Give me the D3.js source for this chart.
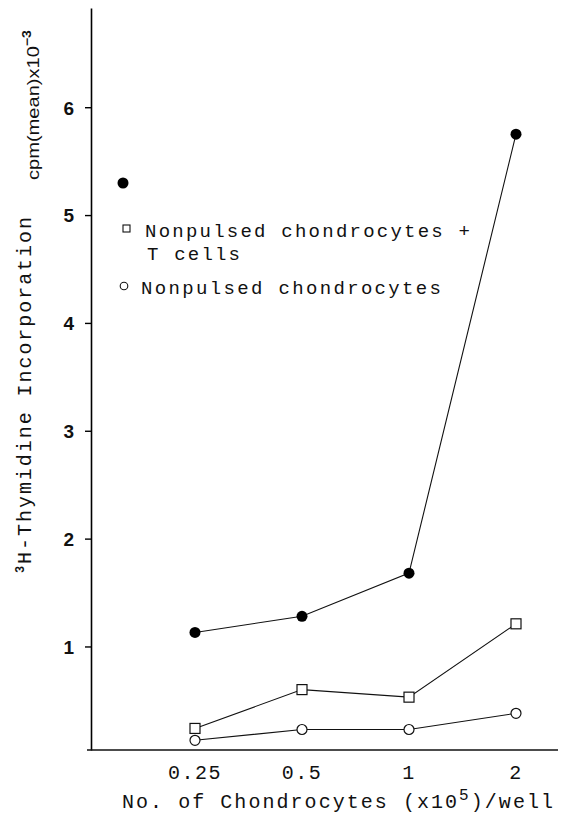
<!DOCTYPE html>
<html>
<head>
<meta charset="utf-8">
<script src="https://cdn.jsdelivr.net/npm/d3@7"></script>
<style>
  body { margin: 0; background: #fff; }
  text { fill: #111; }
</style>
</head>
<body>
<div id="chart"></div>
<script>
// chondrocyte counts (x10^5 per well)
let categories = ["0.25", "0.5", "1", "2"];
// cpm(mean) x10^-3
let pulsedT = [1.13, 1.28, 1.68, 5.75];
let nonpulsedT = [0.24, 0.60, 0.53, 1.21];
let nonpulsed = [0.13, 0.23, 0.23, 0.38];
let yTicks = [1, 2, 3, 4, 5, 6];

let width = 566;
let height = 821;

let svg = d3.select("#chart")
  .append("svg")
  .attr("width", width)
  .attr("height", height);

let x = d3.scalePoint()
  .domain(categories)
  .range([195, 516]);

let y = d3.scaleLinear()
  .domain([0.04, 6.92])
  .range([750, 8]);

let mono = "'Liberation Mono', 'DejaVu Sans Mono', monospace";

// y axis
let yAxis = svg.append("g")
  .attr("transform", "translate(91,0)")
  .call(d3.axisLeft(y).tickValues(yTicks).tickSize(6).tickSizeOuter(0).tickFormat(d3.format("d")));
yAxis.select(".domain").attr("stroke-width", 1.6);
yAxis.selectAll(".tick line").attr("stroke-width", 1.4);
yAxis.selectAll(".tick text")
  .attr("x", -17)
  .attr("dy", "0.36em")
  .style("font-family", "'Liberation Sans', Arial, sans-serif")
  .style("font-size", "19px")
  .style("font-weight", "bold")
  .attr("fill", "#111");

// x axis
svg.append("line")
  .attr("x1", 87).attr("x2", 558)
  .attr("y1", 750).attr("y2", 750)
  .attr("stroke", "#111")
  .attr("stroke-width", 1.6);

svg.append("g")
  .selectAll("text")
  .data(categories)
  .enter()
  .append("text")
  .attr("x", d => x(d))
  .attr("y", 779)
  .attr("text-anchor", "middle")
  .style("font-family", mono)
  .style("font-size", "20px")
  .style("letter-spacing", "1.5px")
  .text(d => d);

// axis titles
let xt = svg.append("text")
  .attr("x", 122)
  .attr("y", 808)
  .attr("textLength", 431)
  .attr("lengthAdjust", "spacing")
  .style("font-family", mono)
  .style("font-size", "20px");
xt.append("tspan").text("No. of Chondrocytes (x10");
xt.append("tspan").attr("dy", -8).style("font-size", "16px").text("5");
xt.append("tspan").attr("dy", 8).text(")/well");

let yt = svg.append("text")
  .attr("transform", "translate(31,573) rotate(-90)")
  .attr("textLength", 356)
  .attr("lengthAdjust", "spacing")
  .style("font-family", mono)
  .style("font-size", "20px");
yt.append("tspan").attr("dy", -7).style("font-size", "12px").style("font-weight", "bold").text("3");
yt.append("tspan").attr("dy", 7).text("H-Thymidine Incorporation");

let ct = svg.append("text")
  .attr("transform", "translate(39,180) rotate(-90)")
  .style("font-family", "'Liberation Sans', Arial, sans-serif")
  .style("font-size", "17px")
  .attr("textLength", 150)
  .attr("lengthAdjust", "spacingAndGlyphs");
ct.append("tspan").text("cpm(mean)x10");
ct.append("tspan").attr("dy", -8).style("font-size", "12px").style("font-weight", "bold").text("−3");

// lines
let line = d3.line()
  .x((d, i) => x(categories[i]))
  .y(d => y(d));

[pulsedT, nonpulsedT, nonpulsed].forEach(s => {
  svg.append("path")
    .datum(s)
    .attr("d", line)
    .attr("fill", "none")
    .attr("stroke", "#111")
    .attr("stroke-width", 1.1);
});

// markers
svg.selectAll(".filled")
  .data(pulsedT)
  .enter()
  .append("circle")
  .attr("cx", (d, i) => x(categories[i]))
  .attr("cy", d => y(d))
  .attr("r", 5.5)
  .attr("fill", "#000");

let sq = 10;
svg.selectAll(".square")
  .data(nonpulsedT)
  .enter()
  .append("rect")
  .attr("x", (d, i) => x(categories[i]) - sq / 2)
  .attr("y", d => y(d) - sq / 2)
  .attr("width", sq)
  .attr("height", sq)
  .attr("fill", "#fff")
  .attr("stroke", "#111")
  .attr("stroke-width", 1.2);

svg.selectAll(".open")
  .data(nonpulsed)
  .enter()
  .append("circle")
  .attr("cx", (d, i) => x(categories[i]))
  .attr("cy", d => y(d))
  .attr("r", 5)
  .attr("fill", "#fff")
  .attr("stroke", "#111")
  .attr("stroke-width", 1.2);

// legend
svg.append("circle")
  .attr("cx", 123).attr("cy", 183).attr("r", 5.5)
  .attr("fill", "#000");

svg.append("rect")
  .attr("x", 123).attr("y", 225).attr("width", 7).attr("height", 7)
  .attr("fill", "#fff").attr("stroke", "#111").attr("stroke-width", 1.1);

svg.append("circle")
  .attr("cx", 124).attr("cy", 286).attr("r", 3.8)
  .attr("fill", "#fff").attr("stroke", "#111").attr("stroke-width", 1.1);

let legendLines = [
  {text: "Nonpulsed chondrocytes +", x: 145, y: 237, len: 325},
  {text: "T cells", x: 147, y: 260, len: 93},
  {text: "Nonpulsed chondrocytes", x: 141, y: 294, len: 300}
];
svg.selectAll(".legend")
  .data(legendLines)
  .enter()
  .append("text")
  .attr("x", d => d.x)
  .attr("y", d => d.y)
  .attr("textLength", d => d.len)
  .attr("lengthAdjust", "spacing")
  .style("font-family", mono)
  .style("font-size", "19px")
  .text(d => d.text);
</script>
</body>
</html>
